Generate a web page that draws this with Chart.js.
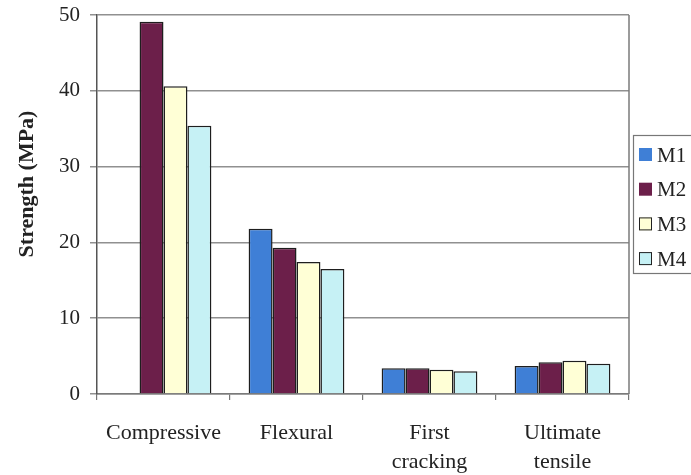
<!DOCTYPE html>
<html>
<head>
<meta charset="utf-8">
<script src="https://cdn.jsdelivr.net/npm/chart.js@4"></script>
<style>
  html, body { margin: 0; padding: 0; background: #ffffff; }
  #wrap { width: 691px; height: 475px; position: relative; }
</style>
</head>
<body>
<div id="wrap"><canvas id="c" width="691" height="475"></canvas></div>
<script>
// Strength test categories and mix results (MPa)
const categories = ['Compressive', 'Flexural', ['First', 'cracking'], ['Ultimate', 'tensile']];
const seriesNames = ['M1', 'M2', 'M3', 'M4'];
const m1 = [null, 21.8, 3.4, 3.7];
const m2 = [49.1, 19.3, 3.4, 4.2];
const m3 = [40.6, 17.4, 3.2, 4.4];
const m4 = [35.4, 16.5, 3.0, 4.0];
const yTicks = [0, 10, 20, 30, 40, 50];
const yTitle = 'Strength (MPa)';

const fills = ['#3f7fd6', '#6c1f4a', '#ffffd6', '#c6f1f5'];
const serif = "'Liberation Serif', 'Times New Roman', serif";

const seriesData = [m1, m2, m3, m4];
const datasets = seriesNames.map((name, i) => ({
  label: name,
  data: seriesData[i],
  backgroundColor: fills[i],
  borderColor: '#1e1e1e',
  borderWidth: 1.5,
  borderSkipped: 'bottom',
  barPercentage: 1.0,
  categoryPercentage: 0.72
}));

// Rotated axis title on the left side
const yTitlePlugin = {
  id: 'yTitle',
  afterDraw(chart) {
    const ctx = chart.ctx;
    ctx.save();
    ctx.translate(27, 184);
    ctx.rotate(-Math.PI / 2);
    ctx.font = 'bold 22px ' + serif;
    ctx.fillStyle = '#222';
    ctx.textAlign = 'center';
    ctx.textBaseline = 'middle';
    ctx.fillText(yTitle, 0, 0);
    ctx.restore();
  }
};

// Right edge of the plot frame
const framePlugin = {
  id: 'frame',
  beforeDatasetsDraw(chart) {
    const { ctx, chartArea: a } = chart;
    ctx.save();
    ctx.strokeStyle = '#7a7a7a';
    ctx.lineWidth = 1.5;
    ctx.beginPath();
    ctx.moveTo(a.right, a.top);
    ctx.lineTo(a.right, a.bottom);
    ctx.stroke();
    ctx.restore();
  }
};

// Boxed legend at the right, built from the datasets
const legendPlugin = {
  id: 'boxLegend',
  afterDraw(chart) {
    const ctx = chart.ctx;
    const x0 = 633, y0 = 135, h = 138;
    ctx.save();
    ctx.fillStyle = '#ffffff';
    ctx.fillRect(x0, y0, 80, h);
    ctx.strokeStyle = '#777';
    ctx.lineWidth = 1.2;
    ctx.strokeRect(x0 + 0.5, y0 + 0.5, 80, h);
    ctx.font = '21px ' + serif;
    ctx.textBaseline = 'middle';
    ctx.textAlign = 'left';
    chart.data.datasets.forEach((ds, i) => {
      const cy = 155 + i * 34.7;
      ctx.fillStyle = ds.backgroundColor;
      ctx.fillRect(639, cy - 7, 13, 13);
      if (i >= 2) {
        ctx.strokeStyle = '#222';
        ctx.lineWidth = 1;
        ctx.strokeRect(639.5, cy - 6.5, 12, 12);
      }
      ctx.fillStyle = '#222';
      ctx.fillText(ds.label, 657, cy + 1);
    });
    ctx.restore();
  }
};

new Chart(document.getElementById('c'), {
  type: 'bar',
  data: { labels: categories, datasets },
  options: {
    responsive: false,
    animation: false,
    devicePixelRatio: 1,
    layout: { padding: { top: 15, right: 62, left: 0, bottom: 0 } },
    plugins: {
      legend: { display: false },
      tooltip: { enabled: false }
    },
    scales: {
      x: {
        grid: {
          offset: true,
          drawOnChartArea: false,
          drawTicks: true,
          tickLength: 6,
          color: '#777',
          lineWidth: 1.2
        },
        border: { display: true, color: '#7a7a7a', width: 1.5 },
        ticks: {
          color: '#222',
          font: { family: serif, size: 22, lineHeight: 1.3 },
          padding: 19,
          maxRotation: 0,
          autoSkip: false
        },
        afterFit(scale) {
          scale.height = 81;
          scale.paddingLeft = 0;
          scale.paddingRight = 0;
        }
      },
      y: {
        min: 0,
        max: 50,
        afterBuildTicks(scale) { scale.ticks = yTicks.map(v => ({ value: v })); },
        grid: {
          color: '#909090',
          lineWidth: 1.5,
          tickLength: 7,
          drawTicks: true
        },
        border: { display: true, color: '#555', width: 1.5 },
        ticks: {
          color: '#222',
          font: { family: serif, size: 21 },
          padding: 10
        },
        afterFit(scale) {
          scale.width = 97;
          scale.paddingTop = 0;
          scale.paddingBottom = 0;
        }
      }
    }
  },
  plugins: [framePlugin, yTitlePlugin, legendPlugin]
});
</script>
</body>
</html>
